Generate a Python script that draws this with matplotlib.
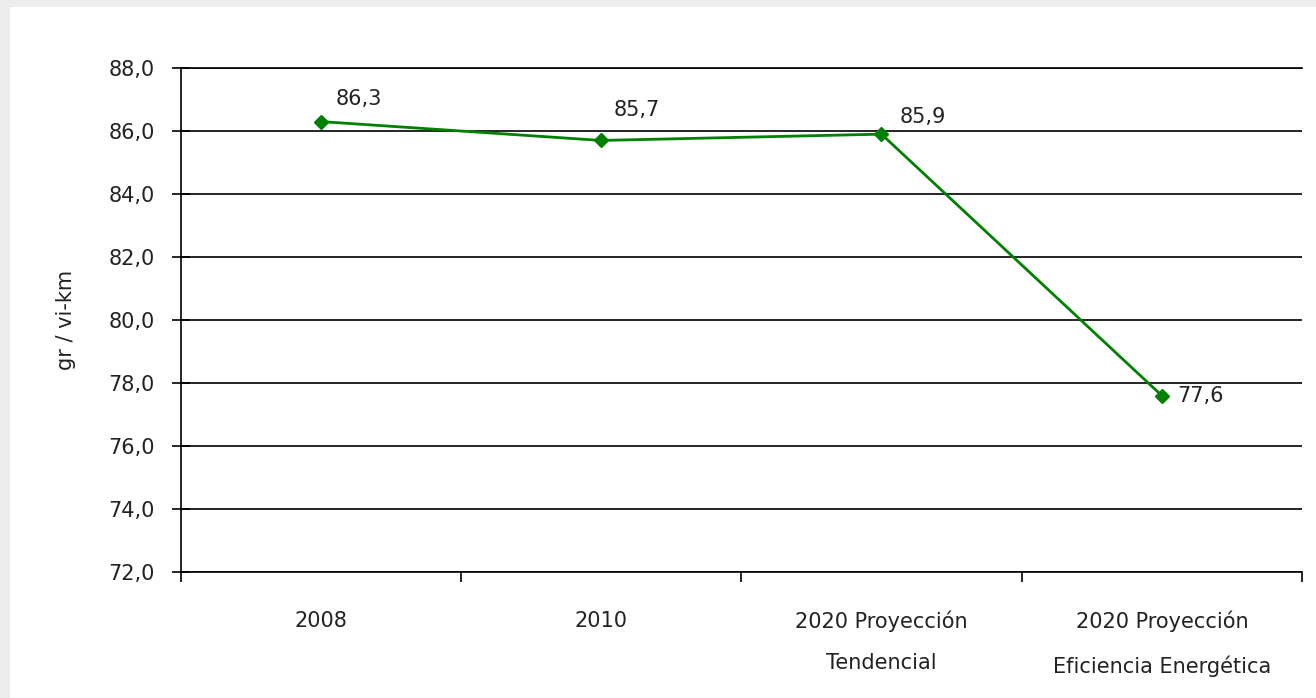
import matplotlib.pyplot as plt
from matplotlib.patches import Rectangle
from matplotlib.ticker import FixedLocator, FuncFormatter, NullFormatter

# Data
categories = ['2008', '2010', '2020 Proyección\nTendencial', '2020 Proyección\nEficiencia Energética']
values = [86.3, 85.7, 85.9, 77.6]
value_labels = ['86,3', '85,7', '85,9', '77,6']
y_ticks = [72, 74, 76, 78, 80, 82, 84, 86, 88]

# label offsets (points) relative to each marker
label_offsets = [(11, 16), (9, 22), (13, 12), (11, 0)]

green = '#008000'
fs = 15

fig = plt.figure(figsize=(13.16, 6.98), dpi=100)
fig.patch.set_facecolor('#ededed')
# white page area (screenshot shows a grey dotted border top/left)
fig.patches.append(Rectangle((10 / 1316, 0), 1, 1 - 7 / 698, transform=fig.transFigure,
                             facecolor='white', edgecolor='none', zorder=-10))

ax = fig.add_axes([180.5 / 1316, 1 - 572 / 698, (1302 - 180.5) / 1316, (572 - 68) / 698])
ax.set_facecolor('white')
ax.patch.set_alpha(0)

x = list(range(len(categories)))
ax.plot(x, values, color=green, lw=2.0, marker='D', markersize=7, zorder=3)

for xi, v, lab, off in zip(x, values, value_labels, label_offsets):
    ax.annotate(lab, (xi, v), xytext=off, textcoords='offset points',
                fontsize=fs, color='#222222', va='center', ha='left')

ax.set_xlim(-0.5, len(categories) - 0.5)
ax.set_ylim(72, 88)
ax.yaxis.set_major_locator(FixedLocator(y_ticks))
ax.yaxis.set_major_formatter(FuncFormatter(lambda v, p: f'{v:.1f}'.replace('.', ',')))
ax.grid(axis='y', color='black', lw=1.2)
ax.set_axisbelow(True)

# category ticks at boundaries, labels at centers
ax.xaxis.set_major_locator(FixedLocator([i - 0.5 for i in range(len(categories) + 1)]))
ax.xaxis.set_major_formatter(NullFormatter())
ax.xaxis.set_minor_locator(FixedLocator(x))
ax.set_xticklabels(categories, minor=True, fontsize=fs, linespacing=2.3, color='#222222')
ax.tick_params(axis='x', which='minor', length=0, pad=28)
ax.tick_params(axis='x', which='major', direction='out', length=7, width=1.2)
ax.tick_params(axis='y', direction='inout', length=13, width=1.2, labelsize=fs,
               labelcolor='#222222', pad=12)

ax.spines['right'].set_visible(False)
ax.spines['top'].set_linewidth(1.2)
for s in ['left', 'bottom']:
    ax.spines[s].set_linewidth(1.2)

ax.set_ylabel('gr / vi-km', fontsize=fs, color='#222222', labelpad=23)

fig.savefig('out.png', dpi=100, facecolor=fig.get_facecolor())
